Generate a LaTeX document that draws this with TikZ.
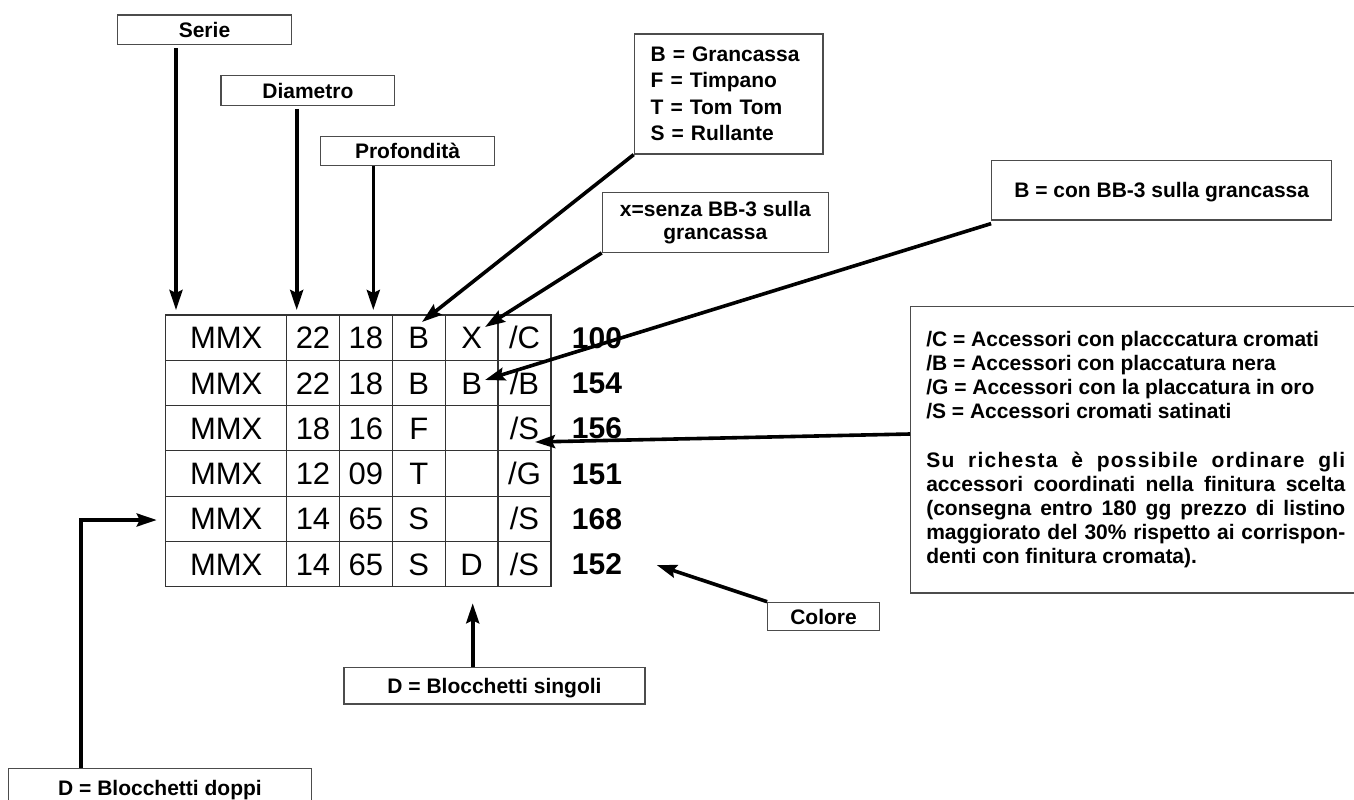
\documentclass[tikz,border=0pt]{standalone}
\usepackage{fontspec}
\setmainfont{Liberation Sans}
\usetikzlibrary{arrows.meta,calc}
\begin{document}
\begin{tikzpicture}[x=1pt,y=-1pt,
  boxline/.style={draw=black!70, line width=1.2pt, fill=white},
  lab/.style={boxline, inner sep=0pt, font=\bfseries\fontsize{21}{23}\selectfont, align=center, text height=15.2pt, text depth=0pt},
  labm/.style={boxline, inner sep=0pt, font=\bfseries\fontsize{21}{23}\selectfont, align=center},
  cell/.style={draw=black!80, line width=1.2pt, inner sep=0pt, minimum height=45.3pt, text height=22.2pt, text depth=0pt, font=\fontsize{31}{31}\selectfont},
  num/.style={anchor=west, inner sep=0pt, text height=21.5pt, text depth=0pt, font=\bfseries\fontsize{30}{30}\selectfont},
  arr/.style={line width=3.6pt, -{Stealth[length=20pt,width=13pt,inset=3pt]}}
]
\useasboundingbox (0,0) rectangle (1354,800);

% label boxes
\node[lab, minimum width=173.6pt, minimum height=29.7pt] (serie) at (204.5,29.85) {Serie};
\node[lab, minimum width=173.7pt, minimum height=29.6pt] (diam) at (307.85,90.5) {Diametro};
\node[lab, minimum width=173.6pt, minimum height=29.4pt] (prof) at (407.5,151) {Profondità};
\node[boxline, inner xsep=16.4pt, inner ysep=0pt, text width=155.9pt, minimum height=120pt, align=left,
      font=\bfseries\fontsize{21}{26.5}\selectfont] (gran) at (728.65,94)
      {B = Grancassa\\F = Timpano\\T = Tom Tom\\S = Rullante};
\node[labm, minimum width=226pt, minimum height=59.6pt] (senza) at (715.3,222.5) {x=senza BB-3 sulla\\grancassa};
\node[lab, minimum width=340pt, minimum height=59.3pt] (con) at (1161.7,190.35) {B = con BB-3 sulla grancassa};
\node[lab, minimum width=111.6pt, minimum height=28.4pt] (colore) at (823.5,616.5) {Colore};
\node[lab, minimum width=301pt, minimum height=36.7pt] (singoli) at (494.5,685.65) {D = Blocchetti singoli};
\node[lab, minimum width=303.4pt, minimum height=38.4pt] (doppi) at (160,787.5) {D = Blocchetti doppi};

% big note box
\node[boxline, anchor=north west, inner xsep=15.7pt, inner ysep=0pt, minimum width=450.4pt, minimum height=286.6pt,
      font=\bfseries\fontsize{21}{24.2}\selectfont] (big) at (910,305.7)
{\parbox{419pt}{\setlength{\parindent}{0pt}\setlength{\parskip}{0pt}\tolerance=10000 \hbadness=10000 \hyphenpenalty=10000 \exhyphenpenalty=10000
/C = Accessori con placccatura cromati\\
/B = Accessori con placcatura nera\\
/G = Accessori con la placcatura in oro\\
/S = Accessori cromati satinati\par
\vspace{24.2pt}
{\addfontfeature{LetterSpace=6}Su richesta è possibile ordinare gli}\linebreak
accessori coordinati nella finitura scelta\linebreak
(consegna entro 180 gg prezzo di listino\linebreak
maggiorato del 30\% rispetto ai corrispon-\linebreak
denti con finitura cromata).}};

% table
\foreach \a/\b/\c/\d/\e/\n [count=\i] in {22/18/B/X/C/100, 22/18/B/B/B/154, 18/16/F/{}/S/156, 12/09/T/{}/G/151, 14/65/S/{}/S/168, 14/65/S/D/S/152}{
  \pgfmathsetmacro\yy{315+45.283*(\i-0.5)}
  \node[cell, minimum width=121pt] (c\i-1) at (226.2,\yy) {MMX};
  \node[cell, minimum width=52.6pt] (c\i-2) at (313,\yy) {\a};
  \node[cell, minimum width=53pt] (c\i-3) at (365.8,\yy) {\b};
  \node[cell, minimum width=53pt] (c\i-4) at (418.8,\yy) {\c};
  \node[cell, minimum width=52.7pt] (c\i-5) at (471.65,\yy) {\d};
  \node[cell, minimum width=53pt] (c\i-6) at (524.5,\yy) {/\e};
  \node[num] (n\i) at (571.7,\yy) {\n};
}

% arrow tips and helper coordinates
\coordinate (tSerie) at (176,310);
\coordinate (tDiam) at (296.7,310);
\coordinate (tProf) at (373.3,310);
\coordinate (tGran) at (422,322);
\coordinate (tSenza) at (485,327);
\coordinate (tCon) at (485,380);
\coordinate (tS) at (535,442);
\coordinate (bigS) at (910,434);
\coordinate (tColore) at (656.7,565);
\coordinate (tSingoli) at (472.7,603.3);
\coordinate (dCorner) at (81,520);
\coordinate (tDoppi) at (156.7,520);

% connectors
\draw[arr, shorten <=3pt] (serie.south -| tSerie) -- (tSerie);
\draw[arr, shorten <=3pt] (diam.south -| tDiam) -- (tDiam);
\draw[arr] (prof.south -| tProf) -- (tProf);
\draw[arr] (gran.south west) -- (tGran);
\draw[arr] (senza.south west) -- (tSenza);
\draw[arr] (con.south west) ++(0,3) -- (tCon);
\draw[arr] (bigS) -- (tS);
\draw[arr] (colore.north west) -- (tColore);
\draw[arr] (singoli.north -| tSingoli) -- (tSingoli);
\draw[arr] (doppi.north -| dCorner) -- (dCorner) -- (tDoppi);
\end{tikzpicture}
\end{document}
